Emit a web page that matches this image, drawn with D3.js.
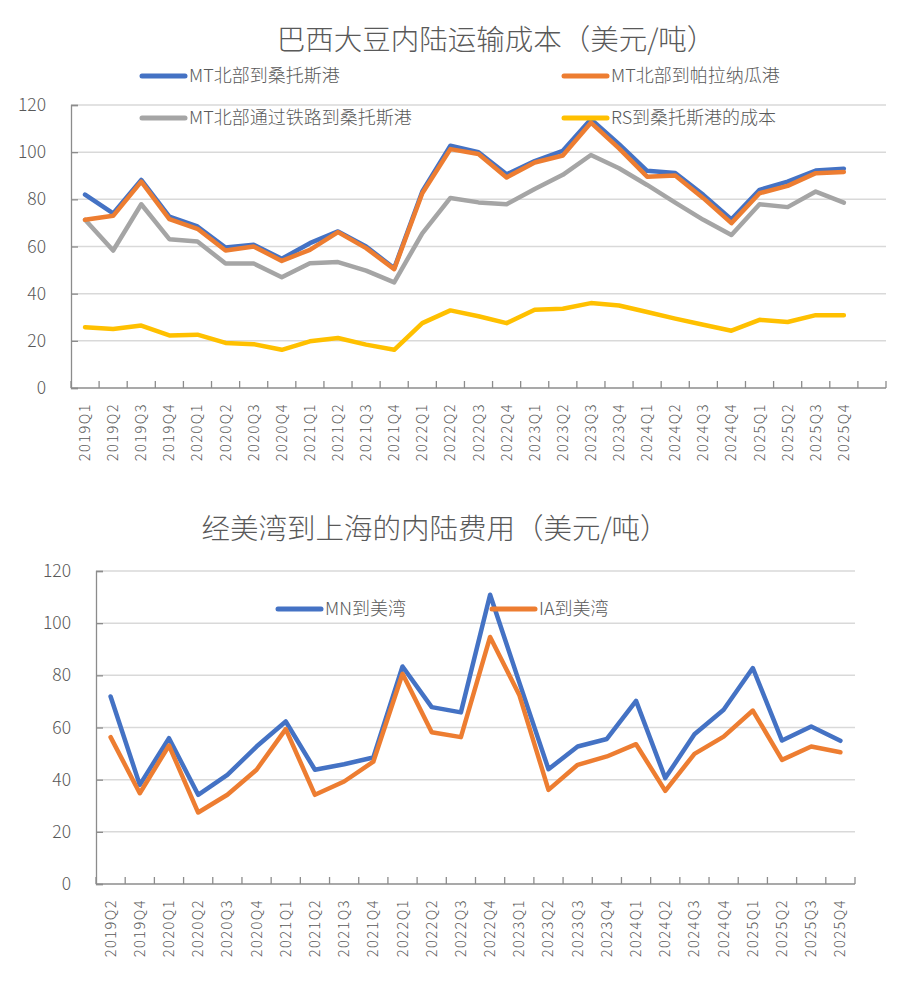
<!DOCTYPE html>
<html><head><meta charset="utf-8">
<script src="https://cdn.jsdelivr.net/npm/d3@7/dist/d3.min.js"></script>
<style>
body{margin:0;background:#fff;}
text{font-family:"Noto Sans CJK SC","Noto Sans",sans-serif;fill:#595959;font-weight:300;}
</style></head><body>
<svg id="c" width="912" height="995"></svg>
<script>
// ---- Data: chart 1 ----
const quarters1 = ["2019Q1","2019Q2","2019Q3","2019Q4","2020Q1","2020Q2","2020Q3","2020Q4","2021Q1","2021Q2","2021Q3","2021Q4","2022Q1","2022Q2","2022Q3","2022Q4","2023Q1","2023Q2","2023Q3","2023Q4","2024Q1","2024Q2","2024Q3","2024Q4","2025Q1","2025Q2","2025Q3","2025Q4",""];
const mtSantos   = [82,74,88.2,72.7,68.5,59.6,60.7,54.8,61.4,66.4,60,50.8,83.3,102.7,100,90.6,96.2,100.6,114,103.4,92.1,91.2,81.9,71.5,84,87.5,92.2,93];
const mtParanagua= [71.3,73,87.5,71.6,67.5,58.3,60,53.9,58.6,66.1,59.3,50.4,82.6,101.3,99.2,89.3,95.6,98.6,112.5,101.6,89.6,90.1,80.5,69.9,82.6,85.7,91.1,91.6];
const mtRail     = [71.3,58.3,77.9,63.1,62.1,52.8,52.8,47,52.9,53.4,49.8,44.8,65.6,80.6,78.7,77.9,84.4,90.4,98.8,93.2,86.1,78.6,71.3,64.9,77.9,76.7,83.3,78.6];
const rsSantos   = [25.8,25,26.5,22.3,22.6,19.1,18.6,16.2,19.8,21.2,18.4,16.2,27.5,32.9,30.4,27.5,33.2,33.6,36,35,32.2,29.4,26.8,24.3,28.9,28,30.9,30.9];
const names1 = ["MT北部到桑托斯港","MT北部到帕拉纳瓜港","MT北部通过铁路到桑托斯港","RS到桑托斯港的成本"];
const title1 = "巴西大豆内陆运输成本（美元/吨）";

// ---- Data: chart 2 ----
const quarters2 = ["2019Q2","2019Q4","2020Q1","2020Q2","2020Q3","2020Q4","2021Q1","2021Q2","2021Q3","2021Q4","2022Q1","2022Q2","2022Q3","2022Q4","2023Q1","2023Q2","2023Q3","2023Q4","2024Q1","2024Q2","2024Q3","2024Q4","2025Q1","2025Q2","2025Q3","2025Q4"];
const mnGulf = [71.9,38,55.9,34.2,41.8,52.7,62.3,43.8,45.9,48.5,83.4,67.8,65.8,110.9,77.3,44,52.7,55.6,70.2,40.6,57.4,66.8,82.8,55,60.4,54.9];
const iaGulf = [56.3,34.8,53.1,27.4,34.2,43.8,59.4,34.2,39.3,46.9,80.6,58.2,56.3,94.7,72.5,36.1,45.7,48.9,53.6,35.7,49.9,56.5,66.5,47.6,52.7,50.5];
const names2 = ["MN到美湾","IA到美湾"];
const title2 = "经美湾到上海的内陆费用（美元/吨）";

const yTicks = [0,20,40,60,80,100,120];
const colors = ["#4472C4","#ED7D31","#A5A5A5","#FFC000"];

const svg = d3.select("#c");

function drawChart(cfg){
  const g = svg.append("g");
  const x = d3.scaleBand().domain(cfg.cats.map((c,i)=>i)).range([cfg.x0,cfg.x1]).paddingInner(0).paddingOuter(0);
  const y = d3.scaleLinear().domain([0,120]).range([cfg.yb,cfg.yt]);
  // gridlines
  g.selectAll(".grid").data(yTicks.filter(v=>v>0)).join("line")
    .attr("x1",cfg.x0).attr("x2",cfg.x1).attr("y1",d=>y(d)).attr("y2",d=>y(d))
    .attr("stroke","#d9d9d9").attr("stroke-width",1.5);
  // y axis
  const ya = g.append("g").attr("transform",`translate(${cfg.x0},0)`)
    .call(d3.axisLeft(y).tickValues(yTicks).tickSize(-7).tickPadding(25).tickFormat(d3.format("d")));
  ya.select(".domain").attr("stroke","#8c8c8c").attr("stroke-width",1.3);
  ya.selectAll(".tick line").attr("stroke","#8c8c8c").attr("stroke-width",1.3);
  ya.selectAll(".tick text").attr("font-size",17.5).attr("fill","#595959")
    .attr("font-family",'"Noto Sans CJK SC","Noto Sans",sans-serif');
  // x axis line + ticks at band boundaries
  const bounds = d3.range(cfg.cats.length+1).map(i=>cfg.x0 + i*x.step());
  g.append("line").attr("x1",cfg.x0).attr("x2",cfg.x1).attr("y1",cfg.yb).attr("y2",cfg.yb)
    .attr("stroke","#8c8c8c").attr("stroke-width",1.3);
  g.selectAll(".xt").data(bounds).join("line")
    .attr("x1",d=>d).attr("x2",d=>d).attr("y1",cfg.yb).attr("y2",cfg.yb-7)
    .attr("stroke","#8c8c8c").attr("stroke-width",1.3);
  // x labels
  g.selectAll(".xl").data(cfg.cats).join("text")
    .attr("transform",(d,i)=>`translate(${x(i)+x.bandwidth()/2+5},${cfg.yb+15}) rotate(-90)`)
    .attr("text-anchor","end").attr("font-size",14.5).attr("letter-spacing","1.5px")
    .text(d=>d);
  // lines
  const line = d3.line().x((d,i)=>x(i)+x.bandwidth()/2).y(d=>y(d));
  cfg.series.forEach((s,k)=>{
    g.append("path").datum(s.values).attr("d",line)
      .attr("fill","none").attr("stroke",s.color).attr("stroke-width",4.5)
      .attr("stroke-linejoin","round").attr("stroke-linecap","round");
  });
  // title
  g.append("text").attr("x",cfg.tx).attr("y",cfg.ty).attr("text-anchor","middle")
    .attr("font-size",28.5).text(cfg.title);
  // legend
  cfg.legend.forEach(l=>{
    g.append("line").attr("x1",l.x).attr("x2",l.x+43).attr("y1",l.y).attr("y2",l.y)
      .attr("stroke",l.color).attr("stroke-width",5).attr("stroke-linecap","round");
    g.append("text").attr("x",l.x+47).attr("y",l.y).attr("dy","0.35em")
      .attr("font-size",18).text(l.name);
  });
}

drawChart({
  cats: quarters1, x0:71, x1:886, yb:388, yt:105,
  series:[{values:mtRail,color:colors[2]},{values:rsSantos,color:colors[3]},{values:mtSantos,color:colors[0]},{values:mtParanagua,color:colors[1]}],
  title:title1, tx:496, ty:50,
  legend:[
    {name:names1[0],color:colors[0],x:142,y:76},
    {name:names1[1],color:colors[1],x:564,y:76},
    {name:names1[2],color:colors[2],x:142,y:118},
    {name:names1[3],color:colors[3],x:564,y:118}
  ]
});

drawChart({
  cats: quarters2, x0:96, x1:855, yb:884, yt:571,
  series:[{values:mnGulf,color:colors[0]},{values:iaGulf,color:colors[1]}],
  title:title2, tx:435, ty:539,
  legend:[
    {name:names2[0],color:colors[0],x:278,y:609},
    {name:names2[1],color:colors[1],x:492,y:609}
  ]
});
</script>
</body></html>
